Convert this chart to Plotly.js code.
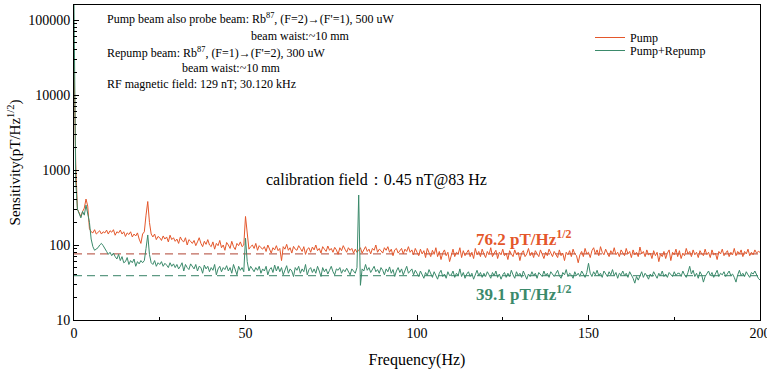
<!DOCTYPE html>
<html>
<head>
<meta charset="utf-8">
<script src="https://cdn.plot.ly/plotly-3.0.1.min.js"></script>
<style>html,body{margin:0;padding:0;background:#fff;}#chart{width:767px;height:370px;}</style>
</head>
<body>
<div id="chart"></div>
<script>
// Frequency grid: 0 to 200 Hz in 0.5 Hz steps
const freqStart = 0;
const freqStep = 0.5;

// Pump only sensitivity (pT/Hz^1/2), every 0.5 Hz
const pumpValues = [
  29000, 1200, 300, 260, 240, 280, 310, 410, 330, 165,
  150, 145, 160, 140, 150, 155, 140, 150, 145, 158,
  140, 155, 148, 160, 135, 150, 145, 158, 140, 150,
  130, 145, 138, 150, 128, 140, 132, 145, 120, 105,
  140, 150, 250, 380, 200, 140, 128, 140, 118, 130,
  125, 115, 132, 120, 128, 110, 135, 118, 125, 112,
  120, 105, 128, 115, 110, 125, 100, 118, 112, 105,
  115, 98, 110, 125, 105, 95, 112, 102, 118, 100,
  95, 110, 88, 105, 98, 115, 92, 100, 85, 108,
  100, 90, 112, 95, 87, 105, 98, 110, 95, 100,
  240, 130, 88, 95, 100, 90, 105, 85, 98, 92,
  88, 95, 82, 100, 90, 78, 92, 86, 98, 84,
  90, 62, 95, 88, 102, 85, 92, 78, 96, 88,
  85, 98, 90, 82, 95, 75, 88, 92, 80, 94,
  86, 100, 84, 90, 78, 95, 88, 82, 97, 85,
  90, 80, 93, 86, 75, 92, 84, 98, 88, 80,
  92, 85, 90, 78, 88, 80, 85, 92, 78, 86,
  95, 82, 88, 76, 90, 85, 100, 80, 88, 84,
  78, 92, 85, 95, 80, 88, 72, 86, 90, 78,
  85, 90, 76, 88, 82, 95, 80, 86, 74, 90,
  80, 72, 88, 76, 84, 68, 90, 78, 70, 85,
  75, 92, 70, 82, 64, 78, 86, 72, 80, 60,
  74, 88, 70, 80, 76, 92, 68, 84, 72, 78,
  86, 70, 80, 66, 90, 74, 82, 70, 88, 76,
  68, 82, 74, 92, 70, 78, 85, 66, 80, 74,
  88, 72, 78, 64, 84, 76, 70, 86, 74, 80,
  62, 78, 84, 70, 76, 90, 72, 80, 68, 84,
  76, 70, 86, 74, 66, 80, 72, 88, 76, 70,
  82, 74, 68, 86, 72, 78, 62, 80, 74, 84,
  70, 88, 76, 72, 58, 74, 82, 70, 90, 76,
  80, 68, 84, 92, 76, 86, 72, 95, 80, 74,
  88, 78, 70, 84, 76, 92, 74, 80, 70, 86,
  78, 72, 90, 76, 82, 68, 86, 74, 80, 70,
  94, 76, 82, 70, 86, 74, 78, 66, 84, 72,
  80, 60, 76, 70, 82, 66, 78, 86, 62, 80,
  74, 88, 70, 84, 66, 78, 72, 90, 76, 82,
  70, 86, 74, 80, 68, 84, 76, 72, 88, 74,
  80, 68, 86, 74, 78, 64, 82, 76, 88, 72,
  78, 84, 70, 80, 74, 90, 72, 82, 76, 86,
  70, 82, 76, 88, 72, 80, 74, 86, 78, 82,
  80
];

// Pump + Repump sensitivity (pT/Hz^1/2), every 0.5 Hz
const repumpValues = [
  160000, 700, 300, 260, 230, 280, 250, 340, 270, 200,
  120, 95, 85, 88, 92, 100, 105, 98, 88, 82,
  75, 80, 72, 78, 70, 65, 75, 62, 70, 58,
  60, 68, 55, 62, 58, 65, 52, 60, 56, 62,
  58, 62, 90, 136, 75, 58, 55, 62, 52, 58,
  55, 60, 52, 57, 54, 50, 58, 52, 56, 50,
  55, 48, 52, 58, 45, 55, 50, 47, 56, 52,
  48, 55, 45, 52, 50, 42, 54, 48, 52, 44,
  50, 46, 55, 40, 48, 52, 44, 50, 47, 53,
  45, 50, 42, 55, 48, 40, 52, 46, 50, 44,
  123, 60, 45, 52, 48, 44, 50, 46, 52, 42,
  48, 45, 52, 40, 47, 50, 43, 54, 45, 52,
  44, 50, 40, 47, 53, 42, 48, 45, 38, 50,
  46, 52, 42, 48, 44, 55, 40, 47, 50, 43,
  48, 42, 52, 45, 38, 50, 44, 48, 41, 46,
  52, 44, 40, 48, 46, 50, 42, 47, 44, 49,
  45, 40, 48, 44, 42, 50, 464, 29, 48, 45,
  55, 46, 50, 43, 48, 52, 44, 47, 42, 50,
  46, 40, 48, 44, 51, 42, 47, 38, 45, 50,
  43, 48, 40, 46, 52, 42, 45, 48, 40, 46,
  42, 38, 45, 40, 36, 43, 39, 47, 41, 37,
  44, 40, 35, 42, 46, 38, 41, 36, 44, 39,
  40, 45, 37, 42, 39, 48, 38, 43, 36, 41,
  44, 38, 42, 35, 40, 46, 39, 43, 37, 42,
  38, 44, 40, 36, 43, 39, 45, 37, 41, 35,
  40, 43, 37, 42, 38, 46, 40, 36, 44, 39,
  42, 37, 45, 40, 35, 41, 38, 44, 39, 42,
  36, 43, 40, 38, 45, 39, 42, 37, 44, 40,
  38, 42, 46, 39, 36, 43, 40, 47, 38, 42,
  40, 36, 44, 39, 42, 38, 45, 41, 37, 43,
  57, 42, 38, 44, 40, 46, 39, 42, 37, 45,
  41, 38, 44, 40, 47, 39, 43, 36, 42, 40,
  45, 39, 42, 37, 44, 40, 36, 31, 38, 34,
  40, 44, 37, 42, 39, 35, 41, 38, 44, 40,
  36, 42, 39, 45, 38, 41, 37, 43, 40, 38,
  44, 39, 42, 42, 38, 45, 40, 37, 43, 52,
  41, 46, 38, 42, 36, 44, 40, 32, 38, 42,
  45, 39, 43, 37, 41, 46, 38, 42, 40, 44,
  38, 42, 45, 39, 41, 37, 32, 40, 46, 39,
  42, 38, 44, 40, 37, 43, 41, 45, 39, 36,
  34
];

// Average noise floors
const levelX = [0, 200];
const pumpLevel = [76.2, 76.2];
const repumpLevel = [39.1, 39.1];

const seriesNames = ['Pump', 'Pump+Repump'];
const xTickVals = [0, 50, 100, 150, 200];
const yTickVals = [10, 100, 1000, 10000, 100000];
const yTickText = ['10', '100', '1000', '10000', '100000'];

const freqs = pumpValues.map((_, i) => freqStart + i * freqStep);

const orange = '#e4572b';
const green = '#3b8a6b';
const serif = 'Liberation Serif';

const traces = [
  {x: levelX, y: pumpLevel, mode: 'lines', line: {color: '#c06a5c', width: 1.3, dash: '8px,5px'}, showlegend: false, hoverinfo: 'skip'},
  {x: levelX, y: repumpLevel, mode: 'lines', line: {color: '#5e9a84', width: 1.3, dash: '8px,5px'}, showlegend: false, hoverinfo: 'skip'},
  {x: freqs, y: pumpValues, name: seriesNames[0], mode: 'lines', line: {color: orange, width: 1}, legend: 'legend'},
  {x: freqs, y: repumpValues, name: seriesNames[1], mode: 'lines', line: {color: green, width: 1}, legend: 'legend2'}
];

const paperY = px => (320 - px) / 315;
const paperX = px => (px - 74) / 686;
const infoFont = {family: serif, size: 12, color: '#000'};
const legendFont = {family: serif, size: 12, color: '#000'};

const layout = {
  width: 767, height: 370,
  margin: {l: 74, r: 7, t: 5, b: 50},
  paper_bgcolor: '#fff', plot_bgcolor: '#fff',
  font: {family: serif, size: 13, color: '#000'},
  showlegend: true,
  legend: {x: paperX(590), y: paperY(23), xanchor: 'left', yanchor: 'top', font: legendFont,
           bgcolor: 'rgba(0,0,0,0)', itemwidth: 30},
  legend2: {x: paperX(590), y: paperY(36), xanchor: 'left', yanchor: 'top', font: legendFont,
           bgcolor: 'rgba(0,0,0,0)', itemwidth: 30},
  xaxis: {
    range: [0, 200], tickvals: xTickVals, ticks: 'inside', ticklen: 5, tickcolor: '#000',
    ticklabeloverflow: 'allow',
    showline: true, linecolor: '#000', linewidth: 1, mirror: true, showgrid: false, zeroline: false,
    minor: {dtick: 25, tick0: 0, ticks: 'inside', ticklen: 3, tickcolor: '#000', showgrid: false},
    tickfont: {family: serif, size: 14},
    title: {text: 'Frequency(Hz)', font: {family: serif, size: 16}, standoff: 14}
  },
  yaxis: {
    type: 'log', range: [1, 5.2], tickvals: yTickVals, ticktext: yTickText,
    ticks: 'inside', ticklen: 5, tickcolor: '#000',
    showline: true, linecolor: '#000', linewidth: 1, mirror: true, showgrid: false, zeroline: false,
    minor: {dtick: 'D1', ticks: 'inside', ticklen: 3, tickcolor: '#000', showgrid: false},
    tickfont: {family: serif, size: 14},
    title: {text: 'Sensitivity(pT/Hz<sup>1/2</sup>)', font: {family: serif, size: 15}, standoff: 3}
  },
  annotations: [
    {xref: 'paper', yref: 'paper', x: paperX(105), y: paperY(19), xanchor: 'left', yanchor: 'middle', showarrow: false, font: infoFont,
     text: 'Pump beam also probe beam: Rb<sup>87</sup>, (F=2)→(F\'=1), 500 uW'},
    {xref: 'paper', yref: 'paper', x: paperX(249), y: paperY(36), xanchor: 'left', yanchor: 'middle', showarrow: false, font: infoFont,
     text: 'beam waist:~10 mm'},
    {xref: 'paper', yref: 'paper', x: paperX(105), y: paperY(52), xanchor: 'left', yanchor: 'middle', showarrow: false, font: infoFont,
     text: 'Repump beam: Rb<sup>87</sup>, (F=1)→(F\'=2), 300 uW'},
    {xref: 'paper', yref: 'paper', x: paperX(180), y: paperY(68), xanchor: 'left', yanchor: 'middle', showarrow: false, font: infoFont,
     text: 'beam waist:~10 mm'},
    {xref: 'paper', yref: 'paper', x: paperX(105), y: paperY(84), xanchor: 'left', yanchor: 'middle', showarrow: false, font: infoFont,
     text: 'RF magnetic field: 129 nT; 30.120 kHz'},
    {xref: 'paper', yref: 'paper', x: paperX(264), y: paperY(180), xanchor: 'left', yanchor: 'middle', showarrow: false,
     font: {family: serif, size: 16, color: '#000'}, text: 'calibration field：0.45 nT@83 Hz'},
    {xref: 'paper', yref: 'paper', x: paperX(474), y: paperY(238), xanchor: 'left', yanchor: 'middle', showarrow: false,
     font: {family: serif, size: 17, color: orange}, text: '<b>76.2 pT/Hz<sup>1/2</sup></b>'},
    {xref: 'paper', yref: 'paper', x: paperX(474), y: paperY(293), xanchor: 'left', yanchor: 'middle', showarrow: false,
     font: {family: serif, size: 17, color: green}, text: '<b>39.1 pT/Hz<sup>1/2</sup></b>'}
  ]
};

Plotly.newPlot('chart', traces, layout, {staticPlot: true, displayModeBar: false});
</script>
</body>
</html>
